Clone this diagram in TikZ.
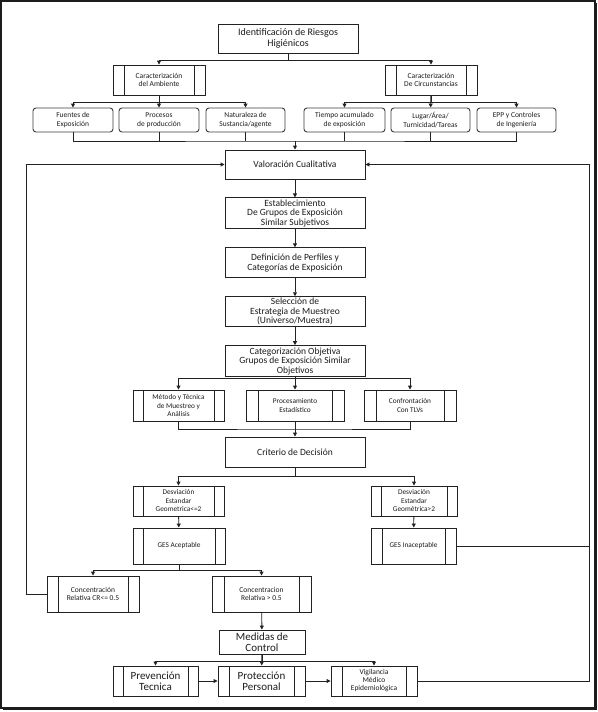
\documentclass[tikz,border=0pt]{standalone}
\usepackage{fontspec}
\setmainfont{Carlito}
\usepackage{tikz}
\usetikzlibrary{positioning,arrows.meta}
\usepackage{xcolor}
\definecolor{flujoInk}{HTML}{1C1C1C}
\definecolor{flujoRule}{HTML}{222222}
\definecolor{flujoSoft}{HTML}{3C3C3C}
\tikzset{
  mainbox/.style   = {draw=flujoRule, line width=0.9pt, fill=white, align=center,
                      minimum width=140pt, minimum height=30pt, inner sep=1pt,
                      text=flujoInk, font=\fontsize{9.5}{9.5}\selectfont},
  factorbox/.style = {rounded corners=3pt, draw=flujoSoft, line width=0.9pt,
                      align=center, minimum width=80pt, minimum height=24pt,
                      inner sep=1pt, text=flujoInk, font=\fontsize{7.5}{8.5}\selectfont},
  subbox/.style    = {draw=flujoRule, line width=0.9pt, fill=white, align=center,
                      minimum height=30pt, inner sep=1pt, text=flujoInk,
                      font=\fontsize{7.3}{8.5}\selectfont,
                      path picture={\draw[flujoRule, line width=0.9pt]
                        ([xshift=#1]path picture bounding box.north west) --
                        ([xshift=#1]path picture bounding box.south west)
                        ([xshift=-#1]path picture bounding box.north east) --
                        ([xshift=-#1]path picture bounding box.south east);}},
  subbox/.default  = 11pt,
  link/.style      = {-{Triangle[length=4pt,width=4pt]}, line width=0.9pt, draw=flujoRule},
  wire/.style      = {line width=0.9pt, draw=flujoRule},
}

\begin{document}
\begin{tikzpicture}[x=1pt, y=-1pt]
  \useasboundingbox (0,0) rectangle (597,712);
  % frame
  \draw[line width=1.4pt, flujoInk] (1,1) rectangle (595,708);
  \draw[line width=2.5pt, flujoInk] (595.5,3) -- (595.5,709) -- (3,709);

  % identification
  \node[mainbox, minimum height=29pt, font=\fontsize{10}{11}\selectfont] (ident) at (288,38.5)
    {Identificación de Riesgos\\Higiénicos};
  \node[subbox, minimum width=92pt, font=\fontsize{7.5}{8.5}\selectfont] (carAmb) at (159,80)
    {Caracterización\\del Ambiente};
  \node[subbox, minimum width=92pt, font=\fontsize{7.5}{8.5}\selectfont] (carCirc) at (431,80)
    {Caracterización\\De Circunstancias};

  \node[factorbox] (fuentes)    at (73,120)    {Fuentes de\\Exposición};
  \node[factorbox] (procesos)   at (159,120)   {Procesos\\de producción};
  \node[factorbox, minimum width=79pt] (naturaleza) at (245.5,120) {Naturaleza de\\Sustancia/agente};
  \node[factorbox, minimum width=81pt] (tiempo)     at (344.5,120) {Tiempo acumulado\\de exposición};
  \node[factorbox, minimum width=79pt] (lugar)      at (430.5,120) {Lugar/Área/\\Turnicidad/Tareas};
  \node[factorbox, minimum width=79pt] (epp)        at (516.5,120) {EPP y Controles\\de Ingeniería};

  % main column
  \node[mainbox, minimum height=29pt] (valor) at (295,164.5) {Valoración Cualitativa};
  \node[mainbox, minimum height=31pt, below=18pt of valor] (estab)
    {Establecimiento\\De Grupos de Exposición\\Similar Subjetivos};
  \node[mainbox, below=18pt of estab] (perfil)
    {Definición de Perfiles y\\Categorías de Exposición};
  \node[mainbox, below=18pt of perfil] (estrat)
    {Selección de\\Estrategia de Muestreo\\(Universo/Muestra)};
  \node[mainbox, minimum height=31pt, below=18pt of estrat] (categ)
    {Categorización Objetiva\\Grupos de Exposición Similar\\Objetivos};

  \node[subbox=10pt, minimum width=91pt, minimum height=31pt] (metodo) at (178.5,405.5)
    {Método y Técnica\\de Muestreo y\\Análisis};
  \node[subbox=12pt, minimum width=98pt, minimum height=31pt] (proces) at (295,405.5)
    {Procesamiento\\Estadístico};
  \node[subbox=12pt, minimum width=92pt, minimum height=31pt] (confront) at (410,405.5)
    {Confrontación\\Con TLVs};

  \node[mainbox] (criterio) at (295,452) {Criterio de Decisión};

  % decision branches
  \node[subbox=10pt, minimum width=91pt] (desvBaja) at (178.5,501)
    {Desviación\\Estandar\\Geometrica<=2};
  \node[subbox=10pt, minimum width=86pt] (desvAlta) at (414,501)
    {Desviación\\Estandar\\Geométrica>2};
  \node[subbox=10pt, minimum width=92pt, minimum height=36pt] (gesAcep) at (179,546)
    {GES Aceptable};
  \node[subbox, minimum width=85pt, minimum height=36pt] (gesInac) at (413.5,546)
    {GES Inaceptable};
  \node[subbox, minimum width=92pt, minimum height=36pt, font=\fontsize{7.5}{8.5}\selectfont]
    (concBaja) at (93,594) {Concentración\\Relativa CR<= 0.5};
  \node[subbox=12pt, minimum width=99pt, minimum height=36pt, font=\fontsize{7.5}{8.5}\selectfont]
    (concAlta) at (261.5,594) {Concentracion\\Relativa > 0.5};

  \node[mainbox, minimum width=86pt, minimum height=24pt, font=\fontsize{11}{11}\selectfont]
    (medidas) at (262,642) {Medidas de\\Control};
  \node[subbox=10pt, minimum width=85pt, font=\fontsize{11}{11}\selectfont] (prev) at (155.5,681)
    {Prevención\\Tecnica};
  \node[subbox, minimum width=87pt, font=\fontsize{11}{11}\selectfont] (prot) at (261.5,681)
    {Protección\\Personal};
  \node[subbox, minimum width=86pt, font=\fontsize{7.5}{8}\selectfont] (vig) at (374,681)
    {Vigilancia\\Médico\\Epidemiológica};

  % connectors: top
  \draw[link] (ident.south) -- ++(0,7) -| (carAmb.north);
  \draw[link] (ident.south) -- ++(0,7) -| (carCirc.north);
  \draw[link] (carAmb.south) -- ++(0,7) -| (fuentes.north);
  \draw[link] (carAmb.south) -- ++(0,7) -| (naturaleza.north);
  \draw[link] (carAmb) -- (procesos);
  \draw[link] (carCirc.south) -- ++(0,7) -| (tiempo.north);
  \draw[link] (carCirc.south) -- ++(0,7) -| (epp.north);
  \draw[link] (carCirc) -- (lugar);

  \coordinate (juntaA) at (295,141);
  \draw[wire] (fuentes.south) |- (juntaA) -| (epp.south);
  \draw[wire] (procesos.south) -- (procesos.south |- juntaA);
  \draw[wire] (naturaleza.south) -- (naturaleza.south |- juntaA);
  \draw[wire] (tiempo.south) -- (tiempo.south |- juntaA);
  \draw[wire] (lugar.south) -- (lugar.south |- juntaA);
  \draw[link] (juntaA) -- (valor.north);

  % connectors: main column
  \draw[link] (valor) -- (estab);
  \draw[link] (estab) -- (perfil);
  \draw[link] (perfil) -- (estrat);
  \draw[link] (estrat) -- (categ);

  \coordinate (ramaB) at (295,378);
  \draw[link] (categ.south) -- (ramaB) -| (metodo.north);
  \draw[link] (ramaB) -| (confront.north);
  \draw[link] (categ) -- (proces);
  \coordinate (juntaB) at (295,429);
  \draw[wire] (metodo.south) |- (juntaB) -| (confront.south);
  \draw[wire] (proces.south) -- (juntaB);
  \draw[link] (juntaB) -- (criterio.north);

  \coordinate (ramaC) at (295,476);
  \draw[link] (criterio.south) -- (ramaC) -| (desvBaja.north);
  \draw[link] (ramaC) -| (desvAlta.north);
  \draw[link] (desvBaja) -- (gesAcep);
  \draw[link] (desvAlta) -- (gesInac);

  \draw[link] (gesAcep.south) -- ++(0,6) -| (concBaja.north);
  \draw[link] (gesAcep.south) -- ++(0,6) -| (concAlta.north);
  \draw[link] (concAlta) -- (medidas);

  \draw[link] (medidas.south) -- ++(0,7) -| (prev.north);
  \draw[link] (medidas.south) -- ++(0,7) -| (vig.north);
  \draw[link] (medidas) -- (prot);
  \draw[link] (prev) -- (prot);
  \draw[link] (prot) -- (vig);

  % feedback loops
  \coordinate (retDer) at (589,0);
  \draw[link] (concBaja.west) -- ++(-20,0) |- (valor.west);
  \draw[link] (vig.east) -| (retDer |- valor.east) -- (valor.east);
  \draw[wire] (gesInac.east) -- (gesInac.east -| retDer);
\end{tikzpicture}
\end{document}
